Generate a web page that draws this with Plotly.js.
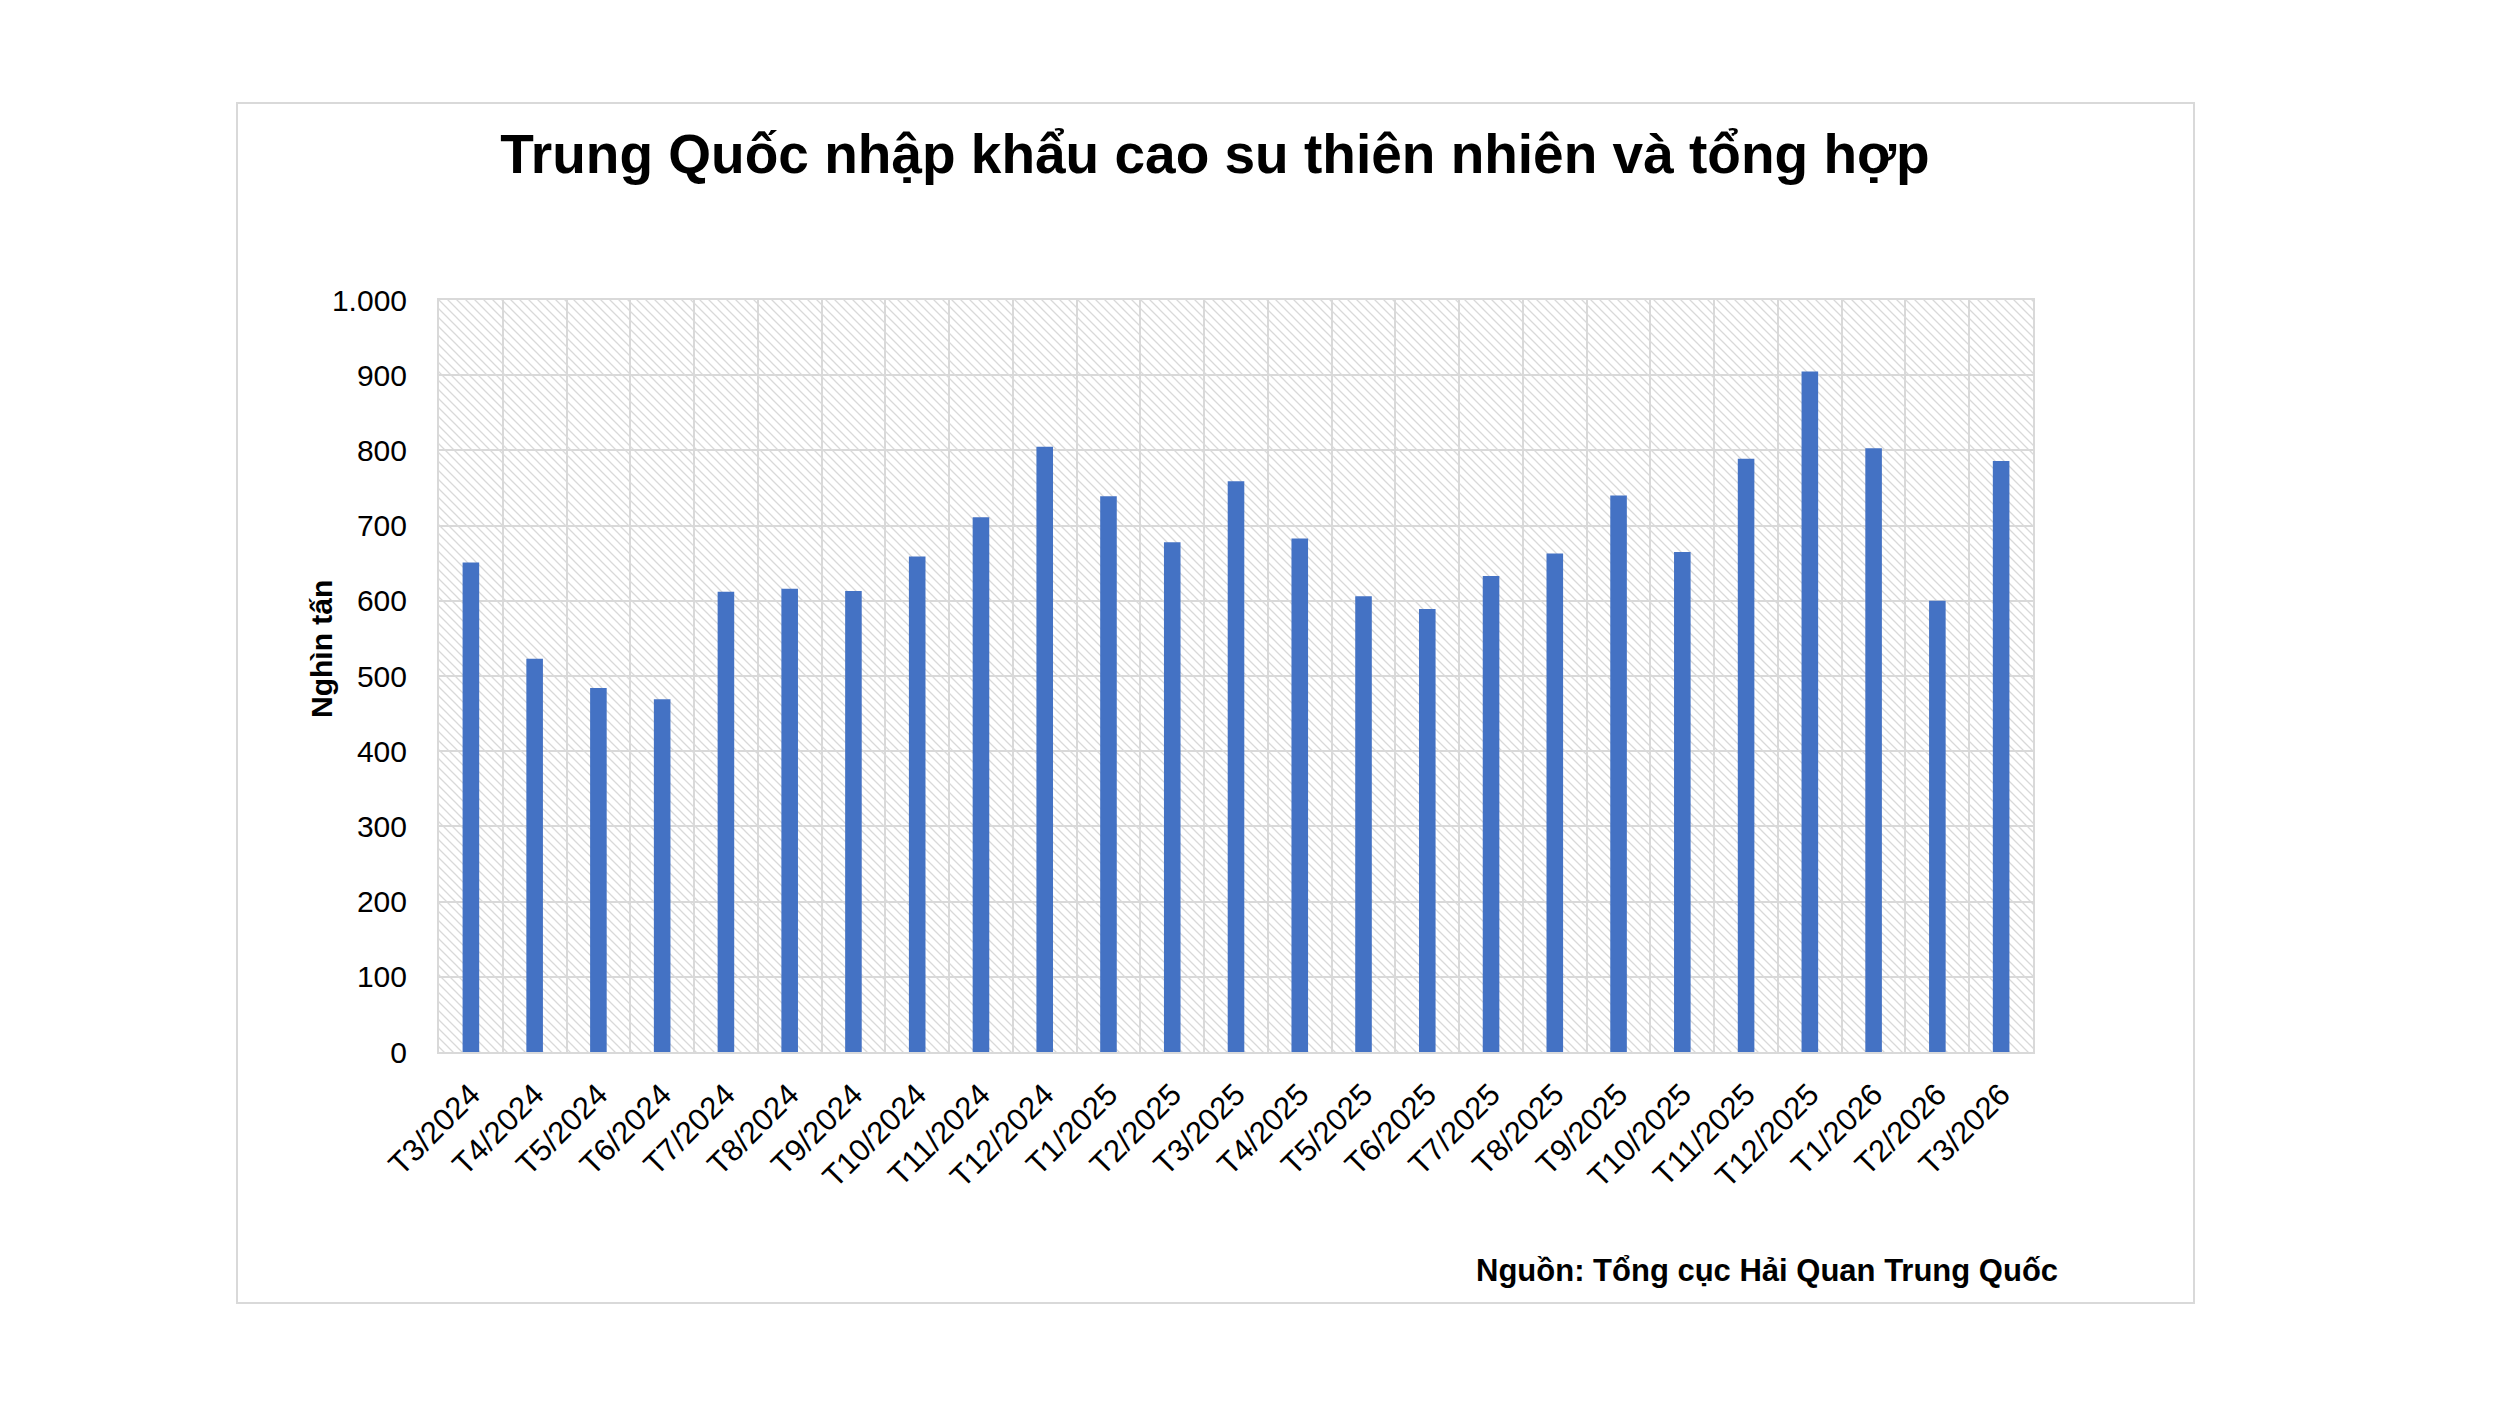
<!DOCTYPE html>
<html>
<head>
<meta charset="utf-8">
<script src="https://cdn.plot.ly/plotly-3.0.1.min.js"></script>
<style>
html,body{margin:0;padding:0;background:#fff;}
#chart{width:2500px;height:1406px;}
</style>
</head>
<body>
<div id="chart"></div>
<script>
const months = ["T3/2024","T4/2024","T5/2024","T6/2024","T7/2024","T8/2024","T9/2024","T10/2024","T11/2024","T12/2024",
  "T1/2025","T2/2025","T3/2025","T4/2025","T5/2025","T6/2025","T7/2025","T8/2025","T9/2025","T10/2025","T11/2025","T12/2025",
  "T1/2026","T2/2026","T3/2026"];
const imports = [651,523,484,469,612,616,613,659,711,805,
  739,678,759,683,606,589,633,663,740,665,789,905,
  803,600,786];
const chartTitle = "Trung Quốc nhập khẩu cao su thiên nhiên và tổng hợp";
const yTitle = "Nghìn tấn";
const sourceText = "Nguồn: Tổng cục Hải Quan Trung Quốc";

const W = 2500, H = 1406;
const M = {l:439, r:467, t:300, b:354};
const PW = W - M.l - M.r, PH = H - M.t - M.b;

// hatch background for the plot area
const svg = '<svg xmlns="http://www.w3.org/2000/svg" width="'+PW+'" height="'+PH+'" viewBox="0 0 '+PW+' '+PH+'" preserveAspectRatio="none">'+
  '<defs><pattern id="h" patternUnits="userSpaceOnUse" width="9" height="9">'+
  '<path d="M-2,-2 L11,11 M-2,7 L2,11 M7,-2 L11,2" stroke="#d9d9d9" stroke-width="1.3"/></pattern></defs>'+
  '<rect width="100%" height="100%" fill="#ffffff"/><rect width="100%" height="100%" fill="url(#h)"/></svg>';
const hatch = 'data:image/svg+xml;charset=utf-8,' + encodeURIComponent(svg);

const FONT = "Liberation Sans, Arial, sans-serif";
const px = v => (v - M.l) / PW;
const py = v => (H - M.b - v) / PH;

const data = [{
  type: 'bar',
  x: months,
  y: imports,
  marker: {color: '#4472C4'},
  hoverinfo: 'x+y'
}];

const layout = {
  width: W, height: H,
  margin: {l:M.l, r:M.r, t:M.t, b:M.b, pad:0},
  paper_bgcolor: '#ffffff',
  plot_bgcolor: 'rgba(0,0,0,0)',
  separators: ',.',
  showlegend: false,
  bargap: 0.74,
  font: {family: FONT, size: 30, color: '#000'},
  title: {
    text: '<b>' + chartTitle + '</b>',
    font: {family: FONT, size: 55, color: '#000'},
    xref: 'container', yref: 'container',
    x: 1215/W, xanchor: 'center',
    y: 1 - 154/H, yanchor: 'middle'
  },
  xaxis: {
    type: 'category',
    tickson: 'boundaries',
    showgrid: true, gridcolor: '#d9d9d9', gridwidth: 2,
    showline: true, mirror: true, linecolor: '#d9d9d9', linewidth: 2,
    ticks: '', tickangle: -45,
    tickfont: {family: FONT, size: 31, color: '#000'},
    ticklabelstandoff: 10,
    fixedrange: true
  },
  yaxis: {
    range: [0, 1000], dtick: 100, tick0: 0,
    tickformat: ',d',
    showgrid: true, gridcolor: '#d9d9d9', gridwidth: 2,
    showline: true, mirror: true, linecolor: '#d9d9d9', linewidth: 2,
    zeroline: false,
    ticks: '',
    tickfont: {family: FONT, size: 30, color: '#000'},
    ticklabelstandoff: 24,
    fixedrange: true
  },
  images: [{
    source: hatch, xref: 'paper', yref: 'paper',
    x: 0, y: 1, sizex: 1, sizey: 1,
    xanchor: 'left', yanchor: 'top',
    sizing: 'stretch', layer: 'below'
  }],
  shapes: [{
    type: 'rect', xref: 'paper', yref: 'paper',
    x0: px(237), x1: px(2194), y0: py(1303), y1: py(103),
    line: {color: '#d9d9d9', width: 2}, fillcolor: 'rgba(0,0,0,0)', layer: 'below'
  }],
  annotations: [{
    text: '<b>' + yTitle + '</b>',
    xref: 'paper', yref: 'paper',
    x: px(321), y: py(649), xanchor: 'center', yanchor: 'middle',
    textangle: -90, showarrow: false,
    font: {family: FONT, size: 30, color: '#000'}
  }, {
    text: '<b>' + sourceText + '</b>',
    xref: 'paper', yref: 'paper',
    x: px(2060), y: py(1270), xanchor: 'right', yanchor: 'middle',
    showarrow: false,
    font: {family: FONT, size: 31, color: '#000'}
  }]
};

Plotly.newPlot('chart', data, layout, {displayModeBar: false, staticPlot: true});
</script>
</body>
</html>
